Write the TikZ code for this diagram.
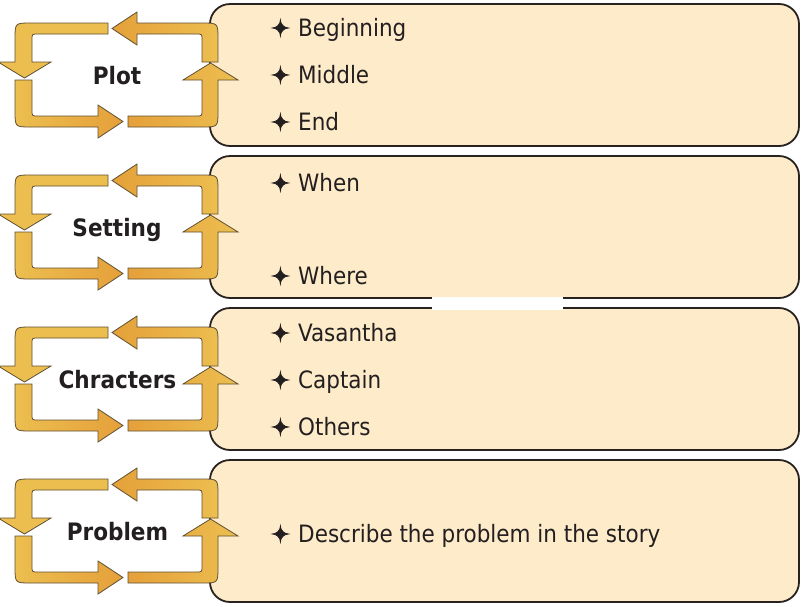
\documentclass[tikz,border=0pt]{standalone}
\usepackage{fontspec}
\setmainfont{DejaVu Sans Condensed}
\newfontfamily\starfont[FakeBold=3]{DejaVu Sans}
\usepackage{tikz}
\usetikzlibrary{positioning}

\definecolor{boxfill}{RGB}{254,235,201}
\definecolor{boxline}{RGB}{40,34,32}
\definecolor{gold}{RGB}{236,190,80}
\definecolor{goldlight}{RGB}{245,232,126}
\definecolor{goldorange}{RGB}{229,160,58}
\definecolor{goldline}{RGB}{95,80,50}
\definecolor{ink}{RGB}{35,31,32}

\tikzstyle{box} = [draw=boxline, fill=boxfill, line width=1.8pt, rounded corners=20pt]
\tikzstyle{arrowpart} = [draw=goldline, line width=0.8pt, line join=miter]
\tikzstyle{headword} = [font=\bfseries\fontsize{24}{28}\selectfont, text=ink, inner sep=0pt, anchor=base]
\tikzstyle{entrytext} = [font=\fontsize{23.9}{28}\selectfont, text=ink, inner sep=0pt, anchor=base west]

\newcommand{\bulletstar}{\makebox[27pt][l]{\starfont\fontsize{22}{28}\selectfont ✦}}

% four bent arrows going round one label
\newcommand{\goldcycle}[1]{%
\begin{scope}[shift={(0,#1)}]
	\draw[arrowpart, left color=gold, middle color=goldlight, right color=gold]
		(108,23) -- (31,23) .. controls (15,23) .. (15,39) -- (15,62) -- (-2,62) -- (24.5,78)
		-- (51,62) -- (32,62) -- (32,40) .. controls (32,34) .. (38,34) -- (108,34) -- cycle;
	\draw[arrowpart, left color=gold, middle color=goldlight, right color=goldorange]
		(15,80) -- (15,111) .. controls (15,127) .. (31,127) -- (98,127) -- (98,138) -- (123,121.5)
		-- (98,105) -- (98,116) -- (38,116) .. controls (32,116) .. (32,110) -- (32,80) -- cycle;
	\draw[arrowpart, left color=goldorange, right color=gold]
		(128,127) -- (202,127) .. controls (218,127) .. (218,111) -- (218,80) -- (238,80) -- (210.5,63)
		-- (183,80) -- (202,80) -- (202,110) .. controls (202,116) .. (196,116) -- (128,116) -- cycle;
	\draw[arrowpart, left color=goldorange, right color=gold]
		(218,62) -- (218,39) .. controls (218,23) .. (202,23) -- (137,23) -- (137,12) -- (112,28.5)
		-- (137,45) -- (137,34) -- (196,34) .. controls (202,34) .. (202,40) -- (202,62) -- cycle;
\end{scope}}

\begin{document}
\begin{tikzpicture}[x=1pt,y=-1pt]
	\useasboundingbox (0,0) rectangle (801,606);

	% ------------------- Boxes ------------------- %
	\draw[box] (210,4) rectangle (799,146);
	\draw[box] (210,156) rectangle (799,298);
	\draw[box] (210,308) rectangle (799,450);
	\draw[box] (210,460) rectangle (799,602);
	\fill[white] (432,297) rectangle (563,310);

	% ------------------- Arrow cycles ------------------- %
	\goldcycle{0}
	\goldcycle{152}
	\goldcycle{304}
	\goldcycle{456}

	\node[headword] (plot) at (117,84) {Plot};
	\node[headword] (setting) at (117,236) {Setting};
	\node[headword] (chars) at (117.5,388) {Chracters};
	\node[headword] (problem) at (117.5,540) {Problem};

	% ------------------- Entries ------------------- %
	\node[entrytext] (beg) at (271,36) {\bulletstar Beginning};
	\node[entrytext] (mid) at (271,83) {\bulletstar Middle};
	\node[entrytext] (fin) at (271,130) {\bulletstar End};

	\node[entrytext] (when) at (271,191) {\bulletstar When};
	\node[entrytext] (where) at (271,284) {\bulletstar Where};

	\node[entrytext] (vas) at (271,341) {\bulletstar Vasantha};
	\node[entrytext] (capt) at (271,388) {\bulletstar Captain};
	\node[entrytext] (oth) at (271,435) {\bulletstar Others};

	\node[entrytext] (descr) at (271,542) {\bulletstar Describe the problem in the story};
\end{tikzpicture}
\end{document}
